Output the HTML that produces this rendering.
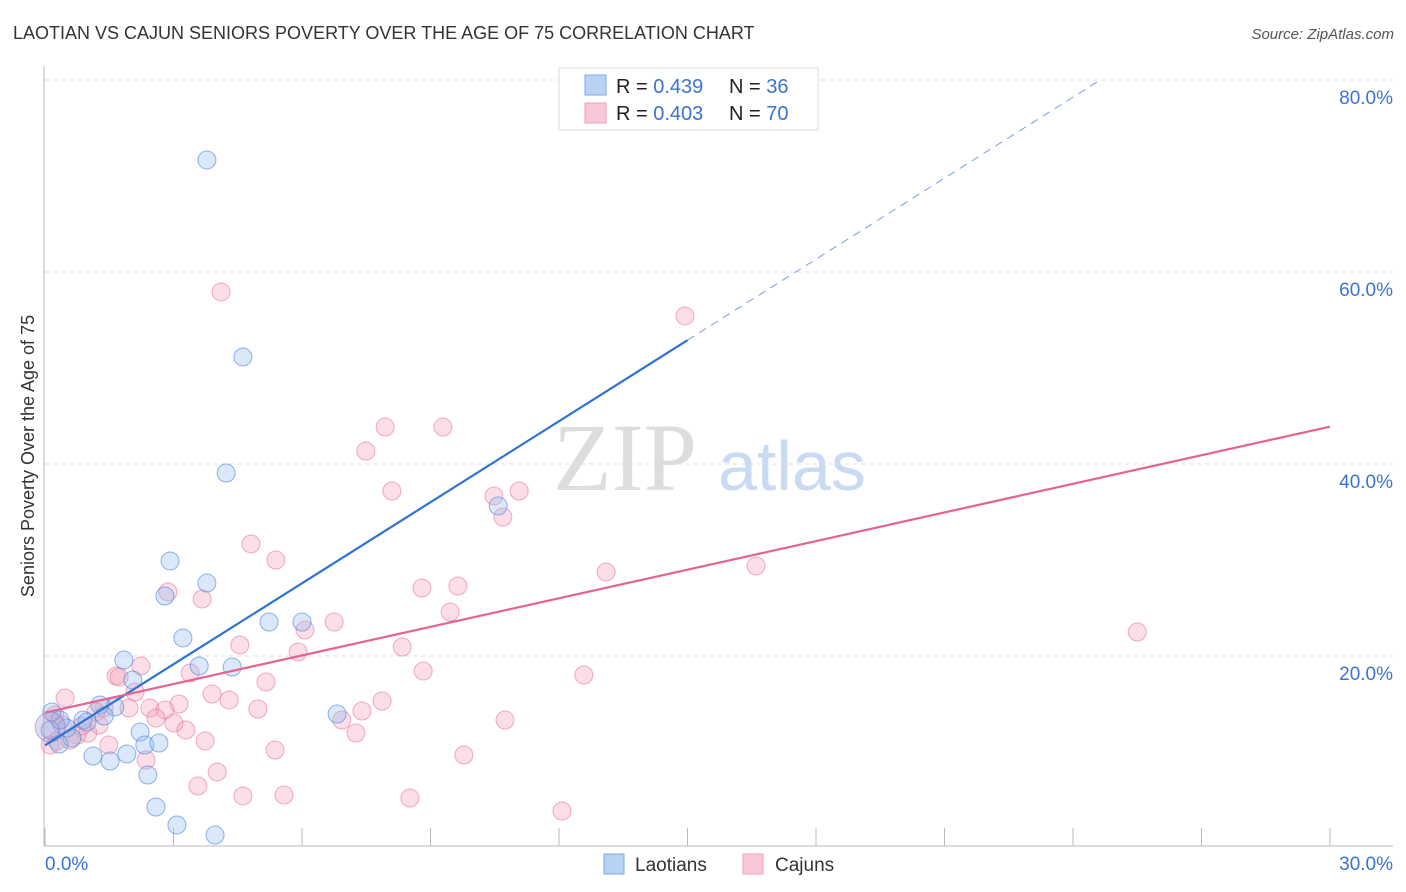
<!DOCTYPE html>
<html><head><meta charset="utf-8">
<style>
body{margin:0;background:#fff;font-family:"Liberation Sans",sans-serif;}
#wrap{position:relative;width:1406px;height:892px;overflow:hidden;}
</style></head>
<body>
<div id="wrap">
<svg id="svg" width="1406" height="892" xmlns="http://www.w3.org/2000/svg">
<text x="13" y="39" font-size="18" fill="#333">LAOTIAN VS CAJUN SENIORS POVERTY OVER THE AGE OF 75 CORRELATION CHART</text>
<text x="1394" y="39" font-size="15" fill="#555" font-style="italic" text-anchor="end">Source: ZipAtlas.com</text>
<text x="34" y="456" font-size="18" fill="#333" text-anchor="middle" transform="rotate(-90 34 456)">Seniors Poverty Over the Age of 75</text>
<g>
<text x="553" y="490" font-size="96" fill="#ddd" font-family="Liberation Serif,serif">ZIP</text>
<text x="718" y="490" font-size="70" fill="#c9dbf3">atlas</text>
</g>
<g id="grid"></g>
<g id="pts"></g>
<g id="lines"></g>
<g>
<rect x="559" y="68" width="259" height="62" fill="#fff" stroke="#ddd"/>
<rect x="585" y="75" width="21" height="20" fill="#b7d2f5" stroke="#7fa9e3"/>
<rect x="585" y="103" width="21" height="20" fill="#f9c7d6" stroke="#eea0b8"/>
<text x="616" y="93" font-size="20" fill="#222">R = <tspan fill="#3a74d0">0.439</tspan><tspan x="729">N = </tspan><tspan fill="#3a74d0">36</tspan></text>
<text x="616" y="120" font-size="20" fill="#222">R = <tspan fill="#3a74d0">0.403</tspan><tspan x="729">N = </tspan><tspan fill="#3a74d0">70</tspan></text>
</g>
<g>
<rect x="604" y="854" width="20" height="20" fill="#b7d2f5" stroke="#7fa9e3"/>
<text x="635" y="871" font-size="19" fill="#333">Laotians</text>
<rect x="743" y="854" width="20" height="20" fill="#f9c7d6" stroke="#eea0b8"/>
<text x="775" y="871" font-size="19" fill="#333">Cajuns</text>
</g>
</svg>
</div>
<script>
const yTicks=[20,40,60,80];
const yTickLabels=["20.0%","40.0%","60.0%","80.0%"];
const xTickVals=[0,3,6,9,12,15,18,21,24,27,30];
const blueX=[3.78,4.62,4.23,2.92,3.78,2.8,3.22,5.23,6.0,3.6,4.37,1.84,2.05,1.63,1.28,1.38,0.89,0.98,0.51,0.63,0.33,0.12,0.35,1.12,1.52,1.91,2.22,2.33,2.66,2.4,2.59,3.08,3.97,6.82,10.58,0.16];
const blueY=[71.67,51.15,39.06,29.9,27.6,26.25,21.88,23.54,23.54,18.96,18.85,19.58,17.5,14.69,14.9,13.75,13.33,13.13,12.5,11.46,10.83,12.29,13.33,9.58,9.06,9.79,12.08,10.73,10.94,7.6,4.27,2.4,1.35,13.96,35.63,14.17];
const pinkX=[4.11,14.94,7.94,9.29,7.49,8.1,10.48,11.07,10.69,4.81,5.39,2.87,3.67,9.64,8.8,13.1,16.6,9.46,6.75,6.07,4.55,8.34,5.91,25.5,2.24,3.39,8.83,12.58,1.66,5.16,2.1,3.9,1.73,0.47,4.3,7.87,3.13,1.38,1.96,2.45,2.8,7.4,4.97,2.59,3.01,6.93,10.74,7.26,3.29,0.75,3.74,1.49,0.28,1.0,5.37,2.36,9.78,4.02,3.57,4.62,5.58,8.52,12.07,0.23,0.4,0.86,1.26,0.58,0.12,1.19];
const pinkY=[57.92,55.42,43.85,43.85,41.35,37.19,36.67,37.19,34.48,31.67,30.0,26.67,25.94,27.29,27.08,28.75,29.38,24.58,23.54,22.71,21.15,20.94,20.42,22.5,18.96,18.23,18.44,18.02,17.92,17.29,16.25,16.04,17.81,15.63,15.42,15.31,15.0,14.58,14.58,14.58,14.38,14.27,14.48,13.54,13.02,13.33,13.33,11.98,12.29,11.77,11.15,10.73,11.15,11.98,10.21,9.17,9.69,7.92,6.46,5.42,5.52,5.21,3.85,13.85,12.81,12.71,12.81,11.25,10.73,14.17];
const blueTrend=[10.7,2.813];
const pinkTrend=[14.1,0.993];
const NS="http://www.w3.org/2000/svg";
const X=v=>45+v*42.833, Y=v=>848-v*9.6;
function mk(t,a,p){const e=document.createElementNS(NS,t);for(const k in a)e.setAttribute(k,a[k]);p.appendChild(e);return e;}
const grid=document.getElementById('grid');
yTicks.forEach((v,i)=>{
 const l=mk('line',{x1:45,x2:1393,y1:Y(v),y2:Y(v),stroke:'#ddd','stroke-dasharray':'4,4'},grid);
 
 
 const t=mk('text',{x:1393,y:Y(v)+24,'font-size':19,fill:'#3a74d0','text-anchor':'end'},grid);
 t.textContent=yTickLabels[i];
 
 
});
const ax=mk('line',{x1:44,x2:1393,y1:846,y2:846,stroke:'#bbb'},grid);


const ay=mk('line',{x1:44,x2:44,y1:66,y2:846,stroke:'#bbb'},grid);


xTickVals.forEach(v=>{
 const l=mk('line',{x1:X(v),x2:X(v),y1:828,y2:846,stroke:'#bbb'},grid);
 
 
});
const t0=mk('text',{x:45,y:870,'font-size':19,fill:'#3a74d0'},grid);t0.textContent="0.0%";


const t1=mk('text',{x:1393,y:870,'font-size':19,fill:'#3a74d0','text-anchor':'end'},grid);t1.textContent="30.0%";


const pts=document.getElementById('pts');
pinkX.forEach((x,i)=>{
 const c=mk('circle',{cx:X(x),cy:Y(pinkY[i]),r:9,fill:'rgba(244,160,186,0.35)',stroke:'rgba(232,120,155,0.6)','stroke-width':1},pts);
 
 
});
blueX.forEach((x,i)=>{
 const c=mk('circle',{cx:X(x),cy:Y(blueY[i]),r:9,fill:'rgba(150,190,240,0.35)',stroke:'rgba(70,130,215,0.6)','stroke-width':1},pts);
 
 
});
const big=mk('circle',{cx:X(0.12),cy:Y(12.6),r:15,fill:'rgba(170,150,210,0.35)',stroke:'rgba(120,120,200,0.5)'},pts);


const lines=document.getElementById('lines');
const bl=mk('line',{x1:X(0),y1:Y(blueTrend[0]),x2:X(15),y2:Y(blueTrend[0]+15*blueTrend[1]),stroke:'#2f72d6','stroke-width':2.2},lines);


const xe=(80-blueTrend[0])/blueTrend[1];
const bd=mk('line',{x1:X(15),y1:Y(blueTrend[0]+15*blueTrend[1]),x2:X(xe),y2:Y(80),stroke:'#7aa0dd','stroke-width':1,'stroke-dasharray':'8,6'},lines);


const pl=mk('line',{x1:X(0),y1:Y(pinkTrend[0]),x2:X(30),y2:Y(pinkTrend[0]+30*pinkTrend[1]),stroke:'#e5638e','stroke-width':2.2},lines);


</script>
</body></html>
